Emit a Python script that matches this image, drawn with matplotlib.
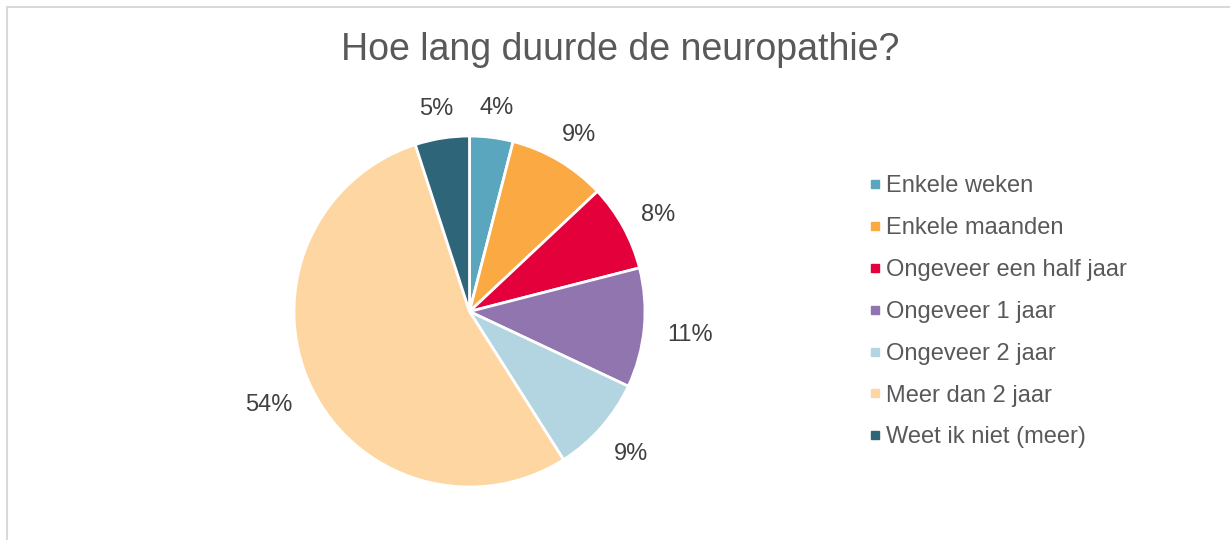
import matplotlib
matplotlib.use("Agg")
import numpy as np
import matplotlib.pyplot as plt
from matplotlib.patches import Rectangle
from matplotlib.lines import Line2D

categories = ["Enkele weken", "Enkele maanden", "Ongeveer een half jaar",
              "Ongeveer 1 jaar", "Ongeveer 2 jaar", "Meer dan 2 jaar",
              "Weet ik niet (meer)"]
values = [4, 9, 8, 11, 9, 54, 5]
colors = ["#5AA6BF", "#FBA943", "#E4003A", "#9175AF", "#B2D5E1", "#FDD6A2", "#2E6579"]
title = "Hoe lang duurde de neuropathie?"

plt.rcParams['font.family'] = ['Liberation Sans', 'DejaVu Sans']
W, H = 1230, 540
fig = plt.figure(figsize=(W/100, H/100), dpi=100)
fig.patch.set_facecolor("white")

# chart frame
fig.add_artist(Rectangle((7/W, -0.1), 1.2, (H-7)/H + 0.1, transform=fig.transFigure,
                         fill=False, edgecolor="#D9D9D9", linewidth=1.5))

cx, cy, r = 469.5, H-311.5, 175.5
ax = fig.add_axes([(cx-r)/W, (cy-r)/H, 2*r/W, 2*r/H])
wedges, texts, autotexts = ax.pie(values, colors=colors, startangle=90, counterclock=False,
                                  autopct=lambda p: f"{p:.0f}%", pctdistance=1.2,
                                  wedgeprops=dict(edgecolor="white", linewidth=2),
                                  textprops=dict(color="#404040", fontsize=17))
ax.set_xlim(-1, 1)
ax.set_ylim(-1, 1)
ax.set_aspect("equal")
ax.axis("off")

# place labels outside (Excel-like): box edge at a fixed gap from the rim
fig.canvas.draw()
renderer = fig.canvas.get_renderer()
gap = 23 / r
yshift = -4 / r
for w, t in zip(wedges, autotexts):
    ang = np.deg2rad((w.theta1 + w.theta2) / 2)
    dx, dy = np.cos(ang), np.sin(ang)
    bb = t.get_window_extent(renderer)
    tw, th = bb.width / r, bb.height / r
    t.set_position((dx * (1 + gap) + dx * tw / 2,
                    dy * (1 + gap) + dy * th / 2 + yshift))
    t.set_ha("center")
    t.set_va("center")

fig.text(620/W, 1-50/H, title, ha="center", va="center", fontsize=27, color="#595959")

handles = [Line2D([], [], linestyle="none", marker="s", markersize=6,
                  markerfacecolor=c, markeredgecolor=c) for c in colors]
leg = fig.legend(handles, categories, loc="upper left",
                 bbox_to_anchor=(858/W, 1-166/H), frameon=False,
                 fontsize=17, labelcolor="#595959", handlelength=0.6,
                 handletextpad=0.2, labelspacing=0.84, borderaxespad=0)

fig.savefig("out.png", dpi=100, facecolor="white")
